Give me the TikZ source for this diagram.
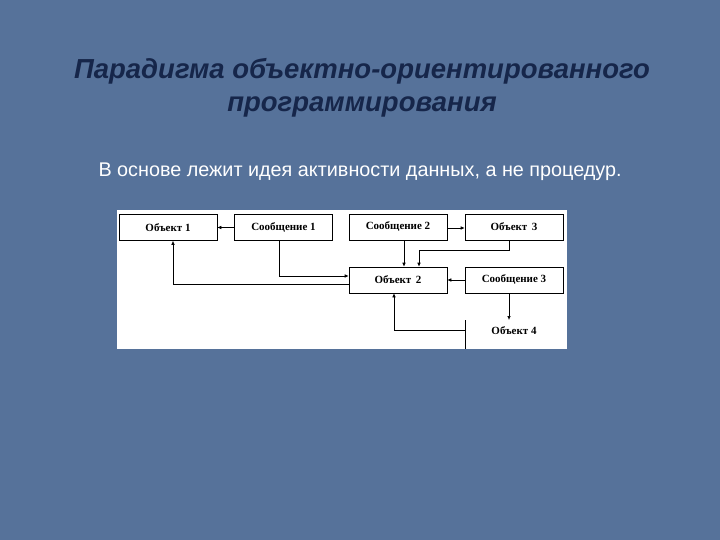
\documentclass[tikz,border=0pt]{standalone}
\usepackage{fontspec}
\setmainfont{Liberation Sans}
\newfontfamily\serifb{Liberation Serif}
\usetikzlibrary{arrows.meta}
\definecolor{bg}{HTML}{56729A}
\definecolor{titlec}{HTML}{16264A}
\begin{document}
\begin{tikzpicture}[x=1pt,y=-1pt,
  box/.style={draw=black,line width=0.6pt,fill=white,minimum width=98pt,minimum height=26pt,inner sep=0pt,font=\serifb\bfseries\fontsize{11}{12}\selectfont},
  conn/.style={line width=0.6pt,-{Latex[length=4pt,width=3.5pt]}}]
\fill[bg] (0,0) rectangle (720,540);
\useasboundingbox (0,0) rectangle (720,540);
\node[font=\bfseries\itshape\fontsize{27.5}{33}\selectfont,text=titlec,align=center] (title) at (362,88) {Парадигма объектно-ориентированного\\программирования};
\node[font=\fontsize{19.8}{22}\selectfont,text=white,anchor=west] (sub) at (95,172) {В основе лежит идея активности данных, а не процедур.};
\fill[white] (117,210) rectangle (567,349);
\node[box] (o1) at (168,227.5) {Объект 1};
\node[box] (s1) at (283.5,227.5) {Сообщение 1};
\node[box] (s2) at (398,227) {Сообщение 2};
\node[box] (o3) at (514,227) {Объект\, 3};
\node[box] (o2) at (398,280) {Объект\, 2};
\node[box] (s3) at (514,280) {Сообщение 3};
\node[font=\serifb\bfseries\fontsize{11}{12}\selectfont] (o4) at (514,331) {Объект 4};
\coordinate (o4l) at (465,330);
\draw[line width=0.6pt] (465,320) -- (465,349);
\draw[conn] (s1.west) -- (o1.east);
\draw[conn] (s2.east |- 0,228) -- (o3.west |- 0,228);
\draw[conn] (s1.south -| 279,0) |- (o2.west |- 0,276);
\draw[conn] (o2.west |- 0,284) -| (o1.south -| 173,0);
\draw[conn] (s2.south -| 404,0) -- (o2.north -| 404,0);
\draw[conn] (o3.south -| 509,0) |- (419,250) -- (o2.north -| 419,0);
\draw[conn] (s3.west) -- (o2.east);
\draw[conn] (s3.south -| 509,0) -- (509,320);
\draw[conn] (o4l) -| (o2.south -| 394,0);
\end{tikzpicture}
\end{document}
